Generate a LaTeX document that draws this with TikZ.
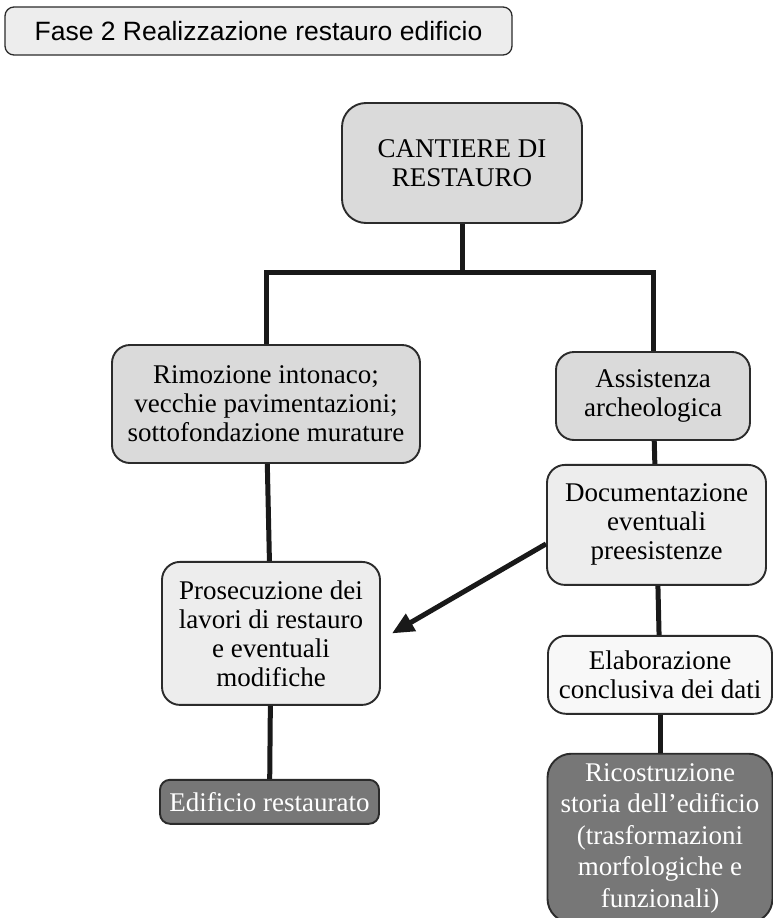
\documentclass[tikz,border=0pt]{standalone}
\usepackage{fontspec}
\setmainfont{Liberation Serif}
\newfontfamily\headfont{Liberation Sans}
\usetikzlibrary{arrows.meta,positioning}
\definecolor{boxgrey}{HTML}{DADADA}
\definecolor{boxlight}{HTML}{EDEDED}
\definecolor{boxwhite}{HTML}{F8F8F8}
\definecolor{boxdark}{HTML}{777777}
\definecolor{rimgrey}{HTML}{2B2B2B}

\begin{document}
\begin{tikzpicture}[x=1pt, y=-1pt, node distance=40pt, box/.style={draw=rimgrey, line width=1.9pt, rounded corners=18pt, align=center, inner sep=4pt, font=\fontsize{27}{29}\selectfont}, gbox/.style={box, fill=boxgrey}, lbox/.style={box, fill=boxlight}, wbox/.style={box, fill=boxwhite}, dbox/.style={box, fill=boxdark, text=white}, link/.style={line width=5pt, draw=black!90}, arrow/.style={link, -{Triangle[length=22pt,width=19pt]}}]
\fill[white] (0,0) rectangle (773,918);
\useasboundingbox (0,0) rectangle (773,918);
\node[lbox, rounded corners=9pt, line width=1.3pt, minimum width=507pt, minimum height=48pt, font=\headfont\fontsize{26.5}{28}\selectfont] (fase) at (258.5,31) {Fase 2 Realizzazione restauro edificio};
\node[gbox, rounded corners=24pt, minimum width=240pt, minimum height=120pt] (cantiere) at (462,163) {CANTIERE DI\\RESTAURO};
\node[gbox, minimum width=308pt, minimum height=118pt] (rimozione) at (266,404) {Rimozione intonaco;\\vecchie pavimentazioni;\\sottofondazione murature};
\node[lbox, minimum width=218pt, minimum height=143pt, below=97pt of rimozione, xshift=5pt] (prosecuzione) {Prosecuzione dei\\lavori di restauro\\e eventuali\\modifiche};
\node[dbox, rounded corners=10pt, minimum width=219pt, minimum height=44pt, below=73pt of prosecuzione, xshift=-1.5pt] (edificio) {Edificio restaurato};
\node[gbox, minimum width=194pt, minimum height=88pt] (assistenza) at (653,396) {Assistenza\\archeologica};
\node[lbox, minimum width=219pt, minimum height=120pt, below=23pt of assistenza, xshift=3.5pt] (documentazione) {Documentazione\\eventuali\\preesistenze};
\node[wbox, minimum width=224pt, minimum height=78pt, below=49pt of documentazione, xshift=3.5pt] (elaborazione) {Elaborazione\\conclusiva dei dati};
\node[dbox, rounded corners=24pt, minimum width=225pt, minimum height=169pt, below=38pt of elaborazione, font=\fontsize{27}{31.5}\selectfont] (ricostruzione) {Ricostruzione\\storia dell’edificio\\(trasformazioni\\morfologiche e\\funzionali)};
\coordinate (split) at (463,272);
\draw[link](cantiere)--(cantiere |- split); \draw[link](rimozione)|-(split)-|(assistenza);
\draw[link](rimozione)--(prosecuzione); \draw[link](prosecuzione)--(edificio);
\draw[link](assistenza)--(documentazione); \draw[link](documentazione)--(elaborazione); \draw[link](elaborazione)--(ricostruzione);
\draw[arrow]([yshift=-19pt]documentazione.west)--([xshift=11pt]prosecuzione.east);
\end{tikzpicture}
\end{document}
